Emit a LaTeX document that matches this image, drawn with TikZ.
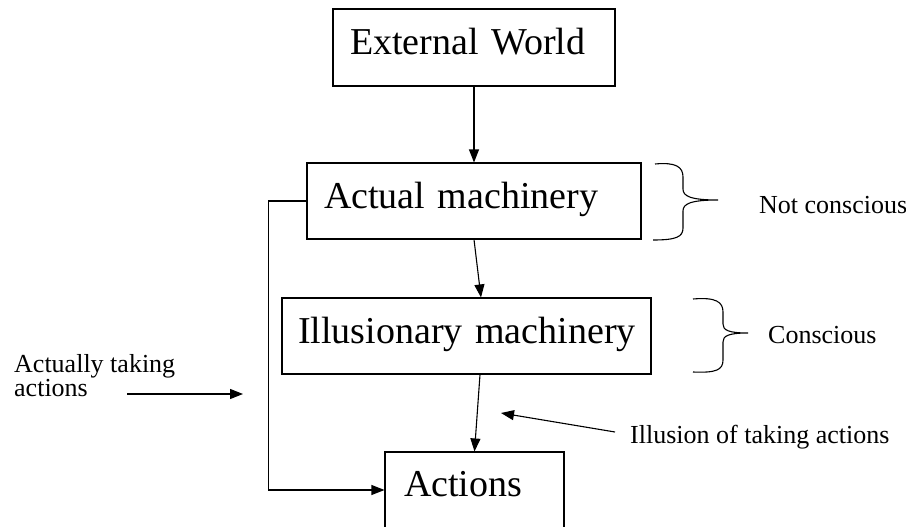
\documentclass[tikz,border=0pt]{standalone}
\usepackage{fontspec}
\setmainfont{Liberation Serif}
\usetikzlibrary{arrows.meta,positioning}

\tikzset{
  stagebox/.style={draw,line width=1.1pt,align=left,inner ysep=0pt,inner xsep=17pt,
    text height=26pt,text depth=12pt,font=\fontsize{38}{44}\selectfont},
  sidenote/.style={inner sep=0pt,align=left,font=\fontsize{26}{24}\selectfont},
  arr/.style={line width=1.1pt,-{Triangle[length=13pt,width=10pt]}},
  bracket/.style={line width=1.1pt}
}

\begin{document}
\begin{tikzpicture}[x=1pt,y=-1pt]
  \useasboundingbox (0,0) rectangle (906,527);
	\node[stagebox,text width=248pt,minimum height=77pt] at (474,47.5) (ext) {\mbox{External World}};
	\node[stagebox,text width=300pt,minimum height=76pt] at (474,201) (act) {\mbox{Actual machinery}};
	\node[stagebox,text width=337pt,inner xsep=16pt,minimum height=76pt] at (466.5,336) (ill) {\mbox{Illusionary machinery}};
	\node[stagebox,text width=141pt,inner xsep=19pt,text depth=58pt,minimum height=120pt] at (474.5,512) (acts) {Actions};
	\draw[arr] (ext) -- (act);
	\draw[arr] (act.south) -- ([xshift=14.5pt]ill.north);
	\draw[arr] ([xshift=13.5pt]ill.south) -- (acts.north);
	\draw[arr] (act.west) -- ++(-38,0) |- ([yshift=22pt]acts.west);
	\draw[bracket] (655,164) .. controls (676,162) and (683,167) .. (683,177) -- (683,189)
	  .. controls (683,196) and (690,200) .. (718,200) .. controls (690,200) and (683,204) .. (683,211)
	  -- (683,228) .. controls (683,237) and (676,240) .. (653,240);
	\draw[bracket] (693,299) .. controls (716,297) and (723,302) .. (723,312) -- (723,324)
	  .. controls (723,330) and (728,333) .. (748,333) .. controls (728,333) and (723,336) .. (723,342)
	  -- (723,360) .. controls (723,370) and (716,373) .. (693,372);
	\node[sidenote,anchor=base west] at (759,213) (notcon) {Not conscious};
	\node[sidenote,anchor=base west] at (768,343) (con) {Conscious};
	\node[sidenote,anchor=north west] at (14,354) (real) {Actually taking\\actions};
	\coordinate (realtail) at (127,394);
	\coordinate (realhead) at (243,394);
	\draw[arr] (realtail) -- (realhead);
	\node[sidenote,anchor=base west] at (630,443) (illus) {Illusion of taking actions};
	\coordinate (illustail) at (615,432);
	\coordinate (illushead) at (501,413);
	\draw[arr] (illustail) -- (illushead);
\end{tikzpicture}
\end{document}
